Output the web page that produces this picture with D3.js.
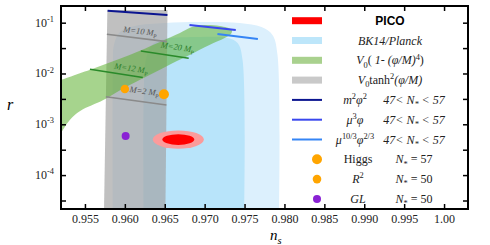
<!DOCTYPE html>
<html>
<head>
<meta charset="utf-8">
<script src="https://cdn.jsdelivr.net/npm/d3@7"></script>
<style>
  body { margin: 0; background: #fff; }
  svg { display: block; font-family: "Liberation Serif", "Times New Roman", serif; }
</style>
</head>
<body>
<div id="chart"></div>
<script>
// ---- data ----
const xTicks = [0.955, 0.960, 0.965, 0.970, 0.975, 0.980, 0.985, 0.990, 0.995, 1.00];
const xTickLabels = ["0.955", "0.960", "0.965", "0.970", "0.975", "0.980", "0.985", "0.990", "0.995", "1.00"];
const yMajor = [1e-1, 1e-2, 1e-3, 1e-4];
const yMajorExp = ["-1", "-2", "-3", "-4"];
const yMinor = [0.0316, 0.00316, 0.000316, 0.0000316];

// BK14/Planck contours, [n_s, r] outlines (95% outer, 68% inner)
const bkOuter = [[0.9585, 1e-6], [0.9585, 0.0117], [0.95863, 0.0364], [0.95938, 0.0656], [0.96125, 0.0861],
  [0.9650, 0.0986], [0.96938, 0.103], [0.97438, 0.0986], [0.97713, 0.0823], [0.9785, 0.0573],
  [0.97913, 0.0231], [0.97919, 1e-6]];
const bkInner = [[0.96238, 1e-6], [0.96238, 0.00473], [0.96263, 0.0185], [0.96338, 0.0364], [0.9650, 0.0477],
  [0.96938, 0.0523], [0.97288, 0.050], [0.97413, 0.0398], [0.97475, 0.0185], [0.97481, 1e-6]];

// V0 tanh^2 band
const tanhBand = [[0.95725, 1e-6], [0.95781, 0.178], [0.96534, 0.178], [0.9650, 1e-6]];

// V0(1-(phi/M)^4) band
const hilltopUpper = [[0.9520, 0.00745], [0.95625, 0.0128], [0.9606, 0.0231], [0.9644, 0.0417], [0.9669, 0.0627],
  [0.9684, 0.0823], [0.9700, 0.0901], [0.9719, 0.0861], [0.9734, 0.0719]];
const hilltopLower = [[0.9733, 0.0600], [0.9725, 0.050], [0.9706, 0.0364], [0.9681, 0.0231], [0.9653, 0.0141],
  [0.9619, 0.0075], [0.9594, 0.0047], [0.9573, 0.0030], [0.9544, 0.00183], [0.9531, 0.00122], [0.9520, 0.000675]];

// constant-M segments
const mNames = ["10", "2", "12", "20"];
const mFamily = ["tanh", "tanh", "hill", "hill"];
const mNs0 = [0.95775, 0.95763, 0.95563, 0.9620];
const mNs1 = [0.96525, 0.96521, 0.96225, 0.9680];
const mR0 = [0.0591, 0.00349, 0.0121, 0.0277];
const mR1 = [0.0423, 0.0024, 0.00834, 0.0199];
const mLabelNs = [0.96188, 0.96238, 0.96075, 0.96656];
const mLabelR = [0.0687, 0.00453, 0.0128, 0.0333];

// monomial models, 47 < N* < 57
const modelNs0 = [0.95784, 0.9681, 0.9716];
const modelNs1 = [0.96534, 0.9739, 0.97667];
const modelR0 = [0.172, 0.090, 0.060];
const modelR1 = [0.142, 0.0718, 0.0478];

// PICO forecast
const picoCenter = [0.9667, 5.0e-4];
const picoHalfNs = [0.0032, 0.0020];
const picoHalfDecades = [0.18, 0.105];

// single models
const dotNames = ["Higgs", "R2", "GL"];
const dotNs = [0.9649, 0.9600, 0.9601];
const dotR = [0.0039, 0.00495, 0.00059];

// ---- layout ----
const W = 490, H = 245;
const plot = { left: 61, right: 468, top: 6, bottom: 209 };

const svg = d3.select("#chart").append("svg")
  .attr("width", W).attr("height", H);

const x = d3.scaleLinear().domain([0.952, 1.003]).range([plot.left, plot.right]);
const y = d3.scaleLog().domain([2.15e-5, 0.213]).range([plot.bottom, plot.top]);

svg.append("clipPath").attr("id", "clip")
  .append("rect")
  .attr("x", plot.left).attr("y", plot.top)
  .attr("width", plot.right - plot.left).attr("height", plot.bottom - plot.top);

const g = svg.append("g").attr("clip-path", "url(#clip)");

const smooth = d3.line().x(d => x(d[0])).y(d => y(d[0] > 0 ? d[1] : 1e-6)).curve(d3.curveCatmullRom);
const straight = d3.line().x(d => x(d[0])).y(d => y(d[1]));

// rich text helper: parts {t, i, sup, sub}
function rich(textSel, parts, size) {
  let off = 0;
  parts.forEach(p => {
    const target = p.sup ? -size * 0.4 : p.sub ? size * 0.28 : 0;
    const ts = textSel.append("tspan").attr("dy", target - off).text(p.t);
    off = target;
    if (p.sup || p.sub) ts.attr("font-size", size * 0.7);
    if (p.i) ts.attr("font-style", "italic");
  });
}

// BK14/Planck
g.append("path").attr("d", smooth(bkOuter) + "Z").attr("fill", "#dcf0fd");
g.append("path").attr("d", smooth(bkInner) + "Z").attr("fill", "#b8e4fa");

// tanh^2 band
g.append("path").attr("d", straight(tanhBand) + "Z")
  .attr("fill", "#a2a2a2").attr("fill-opacity", 0.68);

// hilltop band
g.append("path").attr("d", smooth(hilltopUpper.concat(hilltopLower)) + "Z")
  .attr("fill", "#5cb030").attr("fill-opacity", 0.55);

// constant M segments and labels
mNames.forEach((m, i) => {
  const col = mFamily[i] === "tanh" ? "#8a8a8a" : "#2a8a2a";
  const x0 = x(mNs0[i]), y0 = y(mR0[i]), x1 = x(mNs1[i]), y1 = y(mR1[i]);
  g.append("line").attr("x1", x0).attr("y1", y0).attr("x2", x1).attr("y2", y1)
    .attr("stroke", col).attr("stroke-width", 1.6);
  const ang = Math.atan2(y1 - y0, x1 - x0) * 180 / Math.PI;
  const lx = x(mLabelNs[i]), ly = y(mLabelR[i]);
  const t = g.append("text")
    .attr("transform", `translate(${lx},${ly + 3}) rotate(${ang})`)
    .attr("text-anchor", "middle")
    .attr("font-size", 8.5)
    .attr("fill", mFamily[i] === "tanh" ? "#555" : "#2a7d2a");
  rich(t, [{ t: "M=" + m + " M", i: true }, { t: "P", sub: true }], 8.5);
});

// model lines
const modelColors = ["#0b1590", "#3a48ee", "#3585f5"];
modelNs0.forEach((d, i) => {
  g.append("line")
    .attr("x1", x(modelNs0[i])).attr("y1", y(modelR0[i]))
    .attr("x2", x(modelNs1[i])).attr("y2", y(modelR1[i]))
    .attr("stroke", modelColors[i]).attr("stroke-width", 2);
});

// PICO
const picoColors = ["#fb9b9b", "#ff0000"];
picoHalfNs.forEach((hw, i) => {
  const cx = x(picoCenter[0]), cy = y(picoCenter[1]);
  g.append("ellipse")
    .attr("cx", cx).attr("cy", cy)
    .attr("rx", x(picoCenter[0] + hw) - cx)
    .attr("ry", cy - y(picoCenter[1] * Math.pow(10, picoHalfDecades[i])))
    .attr("fill", picoColors[i]);
});

// single-model dots
const dotColors = ["#ffa500", "#ffa500", "#8a22d4"];
const dotSizes = [5, 4.3, 4];
dotNames.forEach((n, i) => {
  g.append("circle").attr("cx", x(dotNs[i])).attr("cy", y(dotR[i]))
    .attr("r", dotSizes[i]).attr("fill", dotColors[i]);
});

// ---- axes ----
const axB = svg.append("g").attr("transform", `translate(0,${plot.bottom})`)
  .call(d3.axisBottom(x).tickValues(xTicks).tickSize(-5).tickPadding(5)
    .tickFormat((d, i) => xTickLabels[i]));
const axT = svg.append("g").attr("transform", `translate(0,${plot.top})`)
  .call(d3.axisTop(x).tickValues(xTicks).tickSize(-5).tickFormat(""));
const yAll = yMajor.concat(yMinor);
const axL = svg.append("g").attr("transform", `translate(${plot.left},0)`)
  .call(d3.axisLeft(y).tickValues(yAll).tickSize(-5).tickFormat(""));
const axR = svg.append("g").attr("transform", `translate(${plot.right},0)`)
  .call(d3.axisRight(y).tickValues(yAll).tickSize(-5).tickFormat(""));

[axB, axT, axL, axR].forEach(a => {
  a.select(".domain").remove();
  a.selectAll(".tick line").attr("stroke", "#000").attr("stroke-width", 1.5);
});
axB.selectAll(".tick text")
  .attr("font-family", "Liberation Serif, serif").attr("font-size", 12).attr("fill", "#222");

yMajor.forEach((v, i) => {
  const t = svg.append("text")
    .attr("x", plot.left - 7).attr("y", y(v) + 4)
    .attr("text-anchor", "end").attr("font-size", 12).attr("fill", "#222");
  rich(t, [{ t: "10" }, { t: yMajorExp[i], sup: true }], 12);
});

svg.append("rect")
  .attr("x", plot.left).attr("y", plot.top)
  .attr("width", plot.right - plot.left).attr("height", plot.bottom - plot.top)
  .attr("fill", "none").attr("stroke", "#000").attr("stroke-width", 2);

// axis titles
svg.append("text").attr("x", 10).attr("y", 110).attr("text-anchor", "middle")
  .attr("font-size", 16).attr("font-style", "italic").text("r");
const xt = svg.append("text").attr("x", 270).attr("y", 240).attr("font-size", 15);
rich(xt, [{ t: "n", i: true }, { t: "s", sub: true, i: true }], 15);

// ---- legend ----
const rowY = i => 20.7 + i * 19.8;
const swX0 = 292, swX1 = 322;
const swatchColors = ["#ff0000", "#bde6fa", "#a9d18e", "#c9c9c9"];
const swatchLabels = [
  null,
  [{ t: "BK14/Planck", i: true }],
  [{ t: "V", i: true }, { t: "0", sub: true }, { t: "( " }, { t: "1- (φ/M)", i: true }, { t: "4", sup: true }, { t: ")" }],
  [{ t: "V", i: true }, { t: "0", sub: true }, { t: "tanh" }, { t: "2", sup: true }, { t: "(φ/M)", i: true }]
];
const leg = svg.append("g");
swatchColors.forEach((c, i) => {
  leg.append("rect").attr("x", swX0).attr("y", rowY(i) - 3.5)
    .attr("width", swX1 - swX0).attr("height", 7).attr("fill", c);
  if (i === 0) {
    leg.append("text").attr("x", 390).attr("y", rowY(i) + 4.5).attr("text-anchor", "middle")
      .attr("font-family", "Liberation Sans, Arial, sans-serif").attr("font-weight", "bold")
      .attr("font-size", 12).text("PICO");
  } else {
    const t = leg.append("text").attr("x", 390).attr("y", rowY(i) + 4).attr("text-anchor", "middle")
      .attr("font-size", 12).attr("fill", "#222");
    rich(t, swatchLabels[i], 12);
  }
});

const modelLabels = [
  [{ t: "m", i: true }, { t: "2", sup: true }, { t: "φ", i: true }, { t: "2", sup: true }],
  [{ t: "μ", i: true }, { t: "3", sup: true }, { t: "φ", i: true }],
  [{ t: "μ", i: true }, { t: "10/3", sup: true }, { t: "φ", i: true }, { t: "2/3", sup: true }]
];
modelColors.forEach((c, i) => {
  const yy = rowY(4 + i);
  leg.append("line").attr("x1", swX0).attr("x2", swX1).attr("y1", yy).attr("y2", yy)
    .attr("stroke", c).attr("stroke-width", 2);
  const t = leg.append("text").attr("x", 355).attr("y", yy + 4).attr("text-anchor", "middle")
    .attr("font-size", 12).attr("fill", "#222");
  rich(t, modelLabels[i], 12);
  const r = leg.append("text").attr("x", 414).attr("y", yy + 4).attr("text-anchor", "middle")
    .attr("font-size", 12).attr("fill", "#222");
  rich(r, [{ t: "47< N", i: true }, { t: "*", sub: true, i: true }, { t: " < 57", i: true }], 12);
});

const dotLabels = [
  [{ t: "Higgs" }],
  [{ t: "R", i: true }, { t: "2", sup: true }],
  [{ t: "GL", i: true }]
];
const dotEfolds = ["57", "50", "50"];
dotNames.forEach((n, i) => {
  const yy = rowY(7 + i);
  leg.append("circle").attr("cx", 317).attr("cy", yy).attr("r", dotSizes[i]).attr("fill", dotColors[i]);
  const t = leg.append("text").attr("x", 358).attr("y", yy + 4).attr("text-anchor", "middle")
    .attr("font-size", 12).attr("fill", "#222");
  rich(t, dotLabels[i], 12);
  const r = leg.append("text").attr("x", 414).attr("y", yy + 4).attr("text-anchor", "middle")
    .attr("font-size", 12).attr("fill", "#222");
  rich(r, [{ t: "N", i: true }, { t: "*", sub: true }, { t: " = " + dotEfolds[i] }], 12);
});
</script>
</body>
</html>
